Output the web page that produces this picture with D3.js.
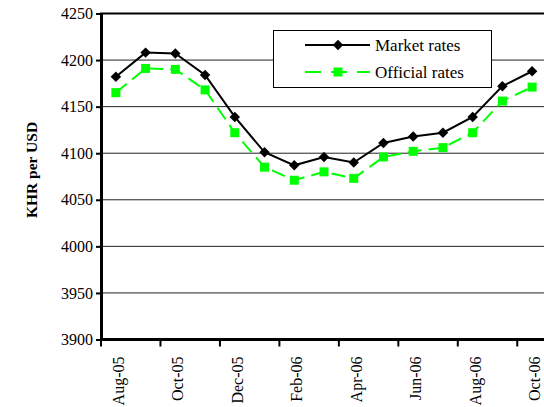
<!DOCTYPE html>
<html>
<head>
<meta charset="utf-8">
<script src="https://cdn.jsdelivr.net/npm/d3@7"></script>
<style>
  body { margin: 0; background: #fff; }
</style>
</head>
<body>
<svg id="chart" width="544" height="407"></svg>
<script>
// Data
const months = ["Aug-05", "Sep-05", "Oct-05", "Nov-05", "Dec-05", "Jan-06", "Feb-06", "Mar-06",
  "Apr-06", "May-06", "Jun-06", "Jul-06", "Aug-06", "Sep-06", "Oct-06"];
const marketRates = [4182, 4208, 4207, 4184, 4139, 4101, 4087, 4096, 4090, 4111, 4118, 4122, 4139, 4172, 4188];
const officialRates = [4165, 4191, 4190, 4168, 4122, 4085, 4071, 4080, 4073, 4096, 4102, 4106, 4122, 4156, 4171];
const yTicks = [3900, 3950, 4000, 4050, 4100, 4150, 4200, 4250];
const tickLabels = ["Aug-05", "Oct-05", "Dec-05", "Feb-06", "Apr-06", "Jun-06", "Aug-06", "Oct-06"];

const serif = "Liberation Serif";
const svg = d3.select("#chart");

const x = d3.scaleBand().domain(months).range([101, 547]);
const y = d3.scaleLinear().domain([3900, 4250]).range([339.5, 13.5]);

// gridlines
svg.append("g")
  .selectAll("line")
  .data(yTicks.slice(1, -1))
  .join("line")
  .attr("x1", 101).attr("x2", 547)
  .attr("y1", d => y(d)).attr("y2", d => y(d))
  .attr("stroke", "#222").attr("stroke-width", 1);

// top border
svg.append("line")
  .attr("x1", 100).attr("x2", 547)
  .attr("y1", y(4250)).attr("y2", y(4250))
  .attr("stroke", "#000").attr("stroke-width", 2);

// y axis
const yAxis = svg.append("g")
  .attr("transform", "translate(101,0)")
  .call(d3.axisLeft(y).tickValues(yTicks).tickFormat(d3.format("d")).tickSize(5).tickSizeOuter(0).tickPadding(3));
yAxis.select(".domain").attr("stroke-width", 3);
yAxis.selectAll(".tick line").attr("stroke-width", 2);
yAxis.selectAll("text")
  .style("font-family", serif).style("font-size", "16px")
  .attr("fill", "#000");

// x axis: ticks at start of every second month
const xAxis = svg.append("g").attr("transform", `translate(0,${y(3900)})`);
xAxis.append("line")
  .attr("x1", 100).attr("x2", 547)
  .attr("stroke", "#000").attr("stroke-width", 3);
xAxis.selectAll(".xt")
  .data(months.filter((m, i) => i % 2 == 0).concat(["end"]))
  .join("line")
  .attr("class", "xt")
  .attr("x1", (d, i) => 101 + i * 2 * x.bandwidth())
  .attr("x2", (d, i) => 101 + i * 2 * x.bandwidth())
  .attr("y1", 0).attr("y2", 7)
  .attr("stroke", "#000").attr("stroke-width", 2);
xAxis.selectAll("text")
  .data(tickLabels)
  .join("text")
  .attr("transform", d => `translate(${x(d) + x.bandwidth() / 2 + 8},17) rotate(-90)`)
  .attr("text-anchor", "end")
  .style("font-family", serif).style("font-size", "16px")
  .text(d => d);

// y axis title
svg.append("text")
  .attr("transform", "translate(37,170) rotate(-90)")
  .attr("text-anchor", "middle")
  .style("font-family", serif).style("font-size", "15.5px")
  .attr("font-weight", "bold")
  .text("KHR per USD");

const cx = d => x(d) + x.bandwidth() / 2;

// official rates
svg.append("path")
  .datum(officialRates)
  .attr("d", d3.line().x((d, i) => cx(months[i])).y(d => y(d)))
  .attr("fill", "none")
  .attr("stroke", "#00ff00")
  .attr("stroke-width", 2)
  .attr("stroke-dasharray", "14,7");
svg.append("g")
  .selectAll("rect")
  .data(officialRates)
  .join("rect")
  .attr("x", (d, i) => cx(months[i]) - 4.5)
  .attr("y", d => y(d) - 4.5)
  .attr("width", 9).attr("height", 9)
  .attr("fill", "#00ff00");

// market rates
svg.append("path")
  .datum(marketRates)
  .attr("d", d3.line().x((d, i) => cx(months[i])).y(d => y(d)))
  .attr("fill", "none")
  .attr("stroke", "#000")
  .attr("stroke-width", 2);
svg.append("g")
  .selectAll("path")
  .data(marketRates)
  .join("path")
  .attr("d", d3.symbol(d3.symbolDiamond2, 70))
  .attr("transform", (d, i) => `translate(${cx(months[i])},${y(d)})`)
  .attr("fill", "#000");

// legend
const legend = svg.append("g");
legend.append("rect")
  .attr("x", 273.5).attr("y", 30.5)
  .attr("width", 218).attr("height", 57)
  .attr("fill", "#fff").attr("stroke", "#000").attr("stroke-width", 1);
legend.append("line")
  .attr("x1", 305).attr("x2", 370).attr("y1", 45).attr("y2", 45)
  .attr("stroke", "#000").attr("stroke-width", 2);
legend.append("path")
  .attr("d", d3.symbol(d3.symbolDiamond2, 70))
  .attr("transform", "translate(338,45)");
legend.append("line")
  .attr("x1", 305).attr("x2", 370).attr("y1", 72).attr("y2", 72)
  .attr("stroke", "#00ff00").attr("stroke-width", 2)
  .attr("stroke-dasharray", "16,10");
legend.append("rect")
  .attr("x", 333.5).attr("y", 67.5).attr("width", 9).attr("height", 9)
  .attr("fill", "#00ff00");
legend.selectAll(".lt")
  .data(["Market rates", "Official rates"])
  .join("text")
  .attr("class", "lt")
  .attr("x", 375).attr("y", (d, i) => 51 + i * 27)
  .style("font-family", serif).style("font-size", "17px")
  .text(d => d);
</script>
</body>
</html>
